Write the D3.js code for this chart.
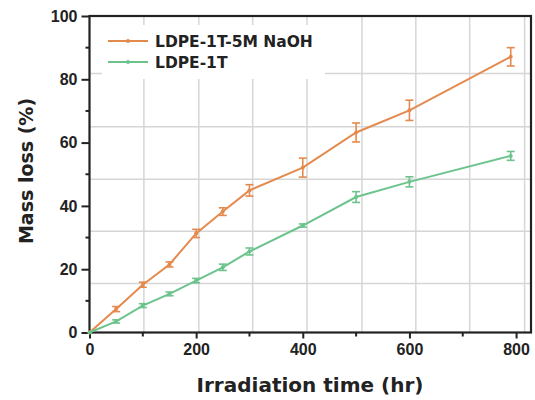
<!DOCTYPE html>
<html>
<head>
<meta charset="utf-8">
<script src="https://cdn.jsdelivr.net/npm/d3@7"></script>
<style>
body { margin: 0; background: #fff; }
svg { font-family: "DejaVu Sans", sans-serif; }
</style>
</head>
<body>
<script>
// data
var hours = [0, 50, 100, 150, 200, 250, 300, 400, 500, 600, 790];
var naohLoss = [0, 7.4, 15.1, 21.5, 31.3, 38.2, 44.9, 52.1, 63.2, 70.2, 87.1];
var naohErr = [0, 0.8, 0.8, 0.8, 1.3, 1.2, 1.8, 3.0, 3.0, 3.2, 2.9];
var plainLoss = [0, 3.5, 8.5, 12.2, 16.4, 20.6, 25.6, 33.8, 42.8, 47.6, 55.8];
var plainErr = [0, 0.5, 0.6, 0.6, 0.7, 1.0, 1.1, 0.5, 1.7, 1.6, 1.4];
var seriesNames = ["LDPE-1T-5M NaOH", "LDPE-1T"];
var xTicks = [0, 200, 400, 600, 800];
var yTicks = [0, 20, 40, 60, 80, 100];
var xGrid = [102, 205, 306, 408, 511, 612, 713, 816];
var yGrid = [15.5, 32, 48.4, 65, 81.8];

var width = 535, height = 400;
var plotL = 89.5, plotT = 16, plotR = 531, plotB = 332.5;

var x = d3.scaleLinear().domain([0, 828]).range([plotL, plotR]);
var y = d3.scaleLinear().domain([0, 100]).range([plotB, plotT]);

var svg = d3.select("body").append("svg")
	.attr("width", width)
	.attr("height", height);

// grid
var grid = svg.append("g").attr("stroke", "#d6d6d6").attr("stroke-width", 1.5);
grid.selectAll(".gx").data(xGrid).enter().append("line")
	.attr("x1", function (d) { return x(d); })
	.attr("x2", function (d) { return x(d); })
	.attr("y1", plotT).attr("y2", plotB);
grid.selectAll(".gy").data(yGrid).enter().append("line")
	.attr("y1", function (d) { return y(d); })
	.attr("y2", function (d) { return y(d); })
	.attr("x1", plotL).attr("x2", plotR);

// legend background hides the grid behind it
svg.append("rect")
	.attr("x", 102).attr("y", 25)
	.attr("width", 223).attr("height", 54)
	.attr("fill", "#fff");

// axes
var xAxis = svg.append("g")
	.attr("transform", "translate(0," + plotB + ")")
	.call(d3.axisBottom(x).tickValues(xTicks).tickSize(6).tickPadding(5).tickFormat(d3.format("d")));
xAxis.append("g").selectAll("line").data([100, 300, 500, 700]).enter().append("line")
	.attr("x1", function (d) { return x(d); })
	.attr("x2", function (d) { return x(d); })
	.attr("y2", 4).attr("stroke", "#222").attr("stroke-width", 2);

var yAxis = svg.append("g")
	.attr("transform", "translate(" + plotL + ",0)")
	.call(d3.axisLeft(y).tickValues(yTicks).tickSize(8).tickPadding(4));
yAxis.append("g").selectAll("line").data([10, 30, 50, 70, 90]).enter().append("line")
	.attr("y1", function (d) { return y(d); })
	.attr("y2", function (d) { return y(d); })
	.attr("x2", -4).attr("stroke", "#222").attr("stroke-width", 2);

svg.selectAll(".domain").remove();
svg.selectAll(".tick line").attr("stroke", "#222").attr("stroke-width", 2);
svg.selectAll(".tick text")
	.attr("fill", "#222")
	.style("font-size", "16px")
	.style("font-weight", "bold");

// frame
svg.append("rect")
	.attr("x", plotL).attr("y", plotT)
	.attr("width", plotR - plotL).attr("height", plotB - plotT)
	.attr("fill", "none").attr("stroke", "#222").attr("stroke-width", 2.2);

var series = [
	{ name: seriesNames[0], color: "#e58a4e", values: naohLoss, err: naohErr },
	{ name: seriesNames[1], color: "#6cc48c", values: plainLoss, err: plainErr }
];

var line = d3.line()
	.x(function (d) { return x(d.h); })
	.y(function (d) { return y(d.v); });

series.forEach(function (s) {
	var pts = hours.map(function (h, i) { return { h: h, v: s.values[i], e: s.err[i] }; });
	var g = svg.append("g");
	g.append("path")
		.datum(pts)
		.attr("d", line)
		.attr("fill", "none")
		.attr("stroke", s.color)
		.attr("stroke-width", 2);
	var eb = g.selectAll(".err").data(pts.filter(function (d) { return d.e > 0; }))
		.enter().append("g")
		.attr("stroke", s.color)
		.attr("stroke-width", 1.6);
	eb.append("line")
		.attr("x1", function (d) { return x(d.h); })
		.attr("x2", function (d) { return x(d.h); })
		.attr("y1", function (d) { return y(d.v - d.e); })
		.attr("y2", function (d) { return y(d.v + d.e); });
	[-1, 1].forEach(function (k) {
		eb.append("line")
			.attr("x1", function (d) { return x(d.h) - 4; })
			.attr("x2", function (d) { return x(d.h) + 4; })
			.attr("y1", function (d) { return y(d.v + k * d.e); })
			.attr("y2", function (d) { return y(d.v + k * d.e); });
	});
	g.selectAll("circle").data(pts).enter().append("circle")
		.attr("cx", function (d) { return x(d.h); })
		.attr("cy", function (d) { return y(d.v); })
		.attr("r", 2)
		.attr("fill", s.color);
});

// legend
var legend = svg.append("g");
series.forEach(function (s, i) {
	var ly = 41 + i * 21;
	legend.append("line")
		.attr("x1", 108).attr("x2", 148)
		.attr("y1", ly).attr("y2", ly)
		.attr("stroke", s.color).attr("stroke-width", 2);
	legend.append("circle")
		.attr("cx", 128).attr("cy", ly).attr("r", 2)
		.attr("fill", s.color);
	legend.append("text")
		.attr("x", 155).attr("y", ly)
		.attr("dy", "0.36em")
		.attr("fill", "#222")
		.style("font-size", "15.5px")
		.style("font-weight", "bold")
		.text(s.name);
});

// axis titles
svg.append("text")
	.attr("x", 310).attr("y", 392)
	.attr("text-anchor", "middle")
	.attr("fill", "#222")
	.style("font-size", "20px")
	.style("font-weight", "bold")
	.text("Irradiation time (hr)");

svg.append("text")
	.attr("transform", "translate(33,171)rotate(-90)")
	.attr("text-anchor", "middle")
	.attr("fill", "#222")
	.style("font-size", "19px")
	.style("font-weight", "bold")
	.text("Mass loss (%)");
</script>
</body>
</html>
